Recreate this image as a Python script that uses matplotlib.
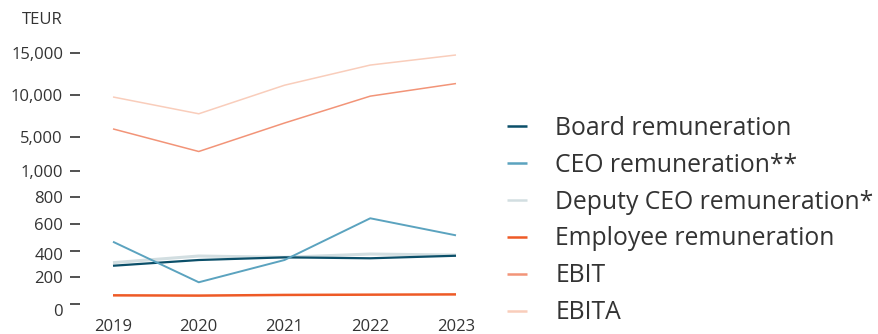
import matplotlib
matplotlib.use('Agg')
import matplotlib.pyplot as plt
import matplotlib.transforms as mtransforms
import numpy as np

######################################################################

# DATA (TEUR)

years = [2019, 2020, 2021, 2022, 2023]

board = [287, 330, 350, 343, 362]
ceo = [467, 163, 330, 643, 515]
deputy_ceo = [310, 360, 350, 375, 367]
employee = [65, 63, 68, 70, 72]
ebit = [6000, 3300, 6700, 9900, 11400]
ebita = [9800, 7800, 11200, 13600, 14800]

y_ticks = [0, 200, 400, 600, 800, 1000, 5000, 10000, 15000]
y_tick_labels = ['0', '200', '400', '600', '800', '1,000', '5,000', '10,000', '15,000']

labels = ['Board remuneration', 'CEO remuneration**', 'Deputy CEO remuneration*',
          'Employee remuneration', 'EBIT', 'EBITA']
colors = ['#0b4f69', '#5ba3bf', '#d2dee1', '#ee5a26', '#f29478', '#f9cdbb']
widths = [1.6, 1.4, 2.2, 1.8, 1.1, 1.1]

######################################################################

# PIECEWISE LINEAR Y SCALE (0-1000 STRETCHED, THEN COMPRESSED)

seg_val = [0, 1000, 5000, 15000]
seg_pos = [0, 133.3, 166.7, 250.7]

def fwd(v):
    return np.interp(v, seg_val, seg_pos)

def inv(p):
    return np.interp(p, seg_pos, seg_val)

######################################################################

plt.rcParams['font.family'] = ['Open Sans', 'DejaVu Sans']
text_color = '#333333'

fig = plt.figure(figsize=(8.79, 3.34), dpi=100)
W, H = 879, 334
ax = fig.add_axes([80 / W, (H - 304) / H, (460 - 80) / W, (304 - 53.3) / H])

series = [board, ceo, deputy_ceo, employee, ebit, ebita]
order = [5, 4, 2, 0, 1, 3]
lines = [None] * 6
for i in order:
    ln, = ax.plot(years, series[i], color=colors[i], lw=widths[i], label=labels[i],
                  clip_on=False, solid_capstyle='butt')
    lines[i] = ln

ax.set_yscale('function', functions=(fwd, inv))
ax.set_ylim(0, 15000)
ax.set_xlim(2019 - 33 / 85.75, 2023 + 4 / 85.75)

for s in ax.spines.values():
    s.set_visible(False)

ax.set_yticks(y_ticks)
ax.set_yticklabels(y_tick_labels)
ax.set_xticks(years)
ax.set_xticklabels([str(y) for y in years])
ax.tick_params(axis='y', length=7.2, width=1.2, color=text_color, pad=5,
               labelsize=12, labelcolor=text_color)
ax.tick_params(axis='x', length=0, pad=10.5, labelsize=12, labelcolor=text_color)

# the lowest labels sit a little under their tick marks in the original
for lab, dy in zip(ax.get_yticklabels(), [6.5, 0, 3, 0, 0, 0, 0, 0, 0]):
    lab.set_transform(lab.get_transform() +
                      mtransforms.ScaledTranslation(0, -dy / 100, fig.dpi_scale_trans))

fig.text(22 / W, 1 - 20 / H, 'TEUR', fontsize=12, color=text_color, va='center', ha='left')

leg = fig.legend(lines, labels, loc='center left', bbox_to_anchor=(507 / W, 1 - 220.5 / H),
                 frameon=False, fontsize=17.8, handlelength=0.8, handletextpad=1.15,
                 labelspacing=0.48, borderaxespad=0, borderpad=0)
for t in leg.get_texts():
    t.set_color(text_color)
for h in leg.legend_handles:
    h.set_linewidth(1.8)

fig.savefig('out.png', dpi=100)
